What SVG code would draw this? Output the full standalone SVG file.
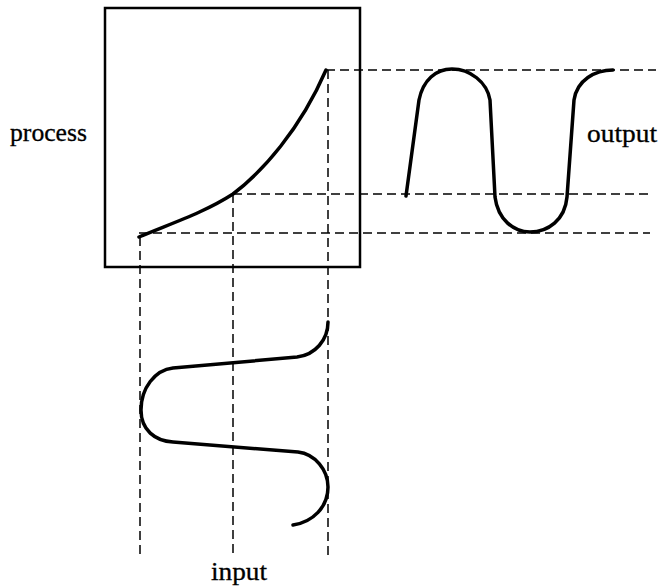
<svg xmlns="http://www.w3.org/2000/svg" width="659" height="588" viewBox="0 0 659 588">
<style>
.box{fill:none;stroke:#000;stroke-width:2.5}
.curve{fill:none;stroke:#000;stroke-width:3.5;stroke-linecap:round;stroke-linejoin:round}
.dash{fill:none;stroke:#000;stroke-width:1.5;stroke-dasharray:9 5}
.lbl{font-family:"Liberation Serif","Times New Roman",serif;font-size:25px;fill:#000;stroke:#000;stroke-width:0.3}
</style>
<rect width="659" height="588" fill="#fff"/>
<g id="connectors">
<line class="dash" x1="326" y1="70" x2="656" y2="70"/>
<line class="dash" x1="233" y1="194" x2="650" y2="194"/>
<line class="dash" x1="139" y1="233" x2="650" y2="233"/>
<line class="dash" x1="140" y1="237" x2="140" y2="555"/>
<line class="dash" x1="233" y1="194" x2="233" y2="558"/>
<line class="dash" x1="328" y1="70" x2="328" y2="558"/>
</g>
<g id="process">
<rect class="box" x="105" y="8" width="255" height="259"/>
<path class="curve" d="M139,237 C175,222 205,212 233,194 C262,172 300,130 326,70"/>
<text class="lbl" x="10" y="141" textLength="77" lengthAdjust="spacingAndGlyphs">process</text>
</g>
<g id="output">
<path class="curve" d="M406,196 L419,100 C423,80 436,69 452,69 C470,69 487,82 490,100 L495,197 C498,220 514,232 530,232 C548,232 565,220 567,197 L574,100 C577,80 595,70 613,70"/>
<text class="lbl" x="587" y="142" textLength="70" lengthAdjust="spacingAndGlyphs">output</text>
</g>
<g id="input">
<path class="curve" d="M328,322 C328,340 315,355 297,357 L173,368 C155,370 141,388 141,410 C141,430 155,441 173,442 L298,452 C315,454 328,470 328,487 C328,507 313,522 293,525"/>
<text class="lbl" x="211" y="580" textLength="56" lengthAdjust="spacingAndGlyphs">input</text>
</g>
</svg>
